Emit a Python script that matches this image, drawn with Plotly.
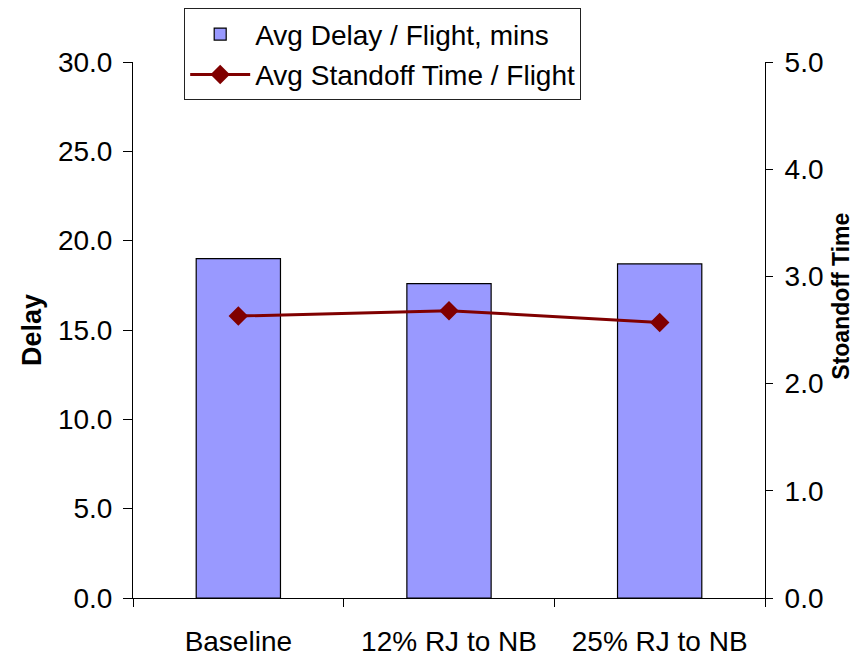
import plotly.graph_objects as go

categories = ["Baseline", "12% RJ to NB", "25% RJ to NB"]
avg_delay = [19.0, 17.6, 18.7]
avg_standoff = [2.63, 2.68, 2.57]
left_ticks = [0, 5, 10, 15, 20, 25, 30]
right_ticks = [0, 1, 2, 3, 4, 5]

FONT = "Liberation Sans, Arial, sans-serif"

fig = go.Figure()
fig.add_trace(go.Bar(
    x=categories, y=avg_delay, name="Avg Delay / Flight, mins",
    marker=dict(color="#9999FF", line=dict(color="black", width=1.2)),
    legendgroup="a", yaxis="y",
))
fig.add_trace(go.Scatter(
    x=categories, y=avg_standoff, name="Avg Standoff Time / Flight",
    mode="lines+markers",
    line=dict(color="#800000", width=3),
    marker=dict(symbol="diamond", size=15, color="#800000"),
    legendgroup="b", yaxis="y2",
))

fig.update_layout(
    width=857, height=648,
    margin=dict(l=125, r=100, t=54, b=58, autoexpand=False),
    paper_bgcolor="white", plot_bgcolor="white",
    font=dict(family=FONT, size=28, color="black"),
    bargap=0.6,
    showlegend=True,
    legend=dict(
        x=0.081, y=1.1, xanchor="left", yanchor="top",
        bgcolor="white", bordercolor="#222222", borderwidth=1,
        font=dict(family=FONT, size=28, color="black"),
        traceorder="grouped", tracegroupgap=1, itemwidth=60,
    ),
    xaxis=dict(
        showline=True, linecolor="black", linewidth=1,
        ticks="outside", tickson="boundaries", ticklen=8, tickcolor="black",
        tickfont=dict(size=28), ticklabelstandoff=18,
        showgrid=False, automargin=False,
    ),
    yaxis=dict(
        range=[0, 30], tickvals=left_ticks, tickformat=".1f",
        showline=True, linecolor="black", linewidth=1,
        ticks="outside", ticklen=9, tickcolor="black",
        tickfont=dict(size=28), ticklabelstandoff=5,
        showgrid=False, zeroline=False, automargin=False,
        title=dict(text="<b>Delay</b>", font=dict(size=27), standoff=8),
    ),
    yaxis2=dict(
        range=[0, 5], tickvals=right_ticks, tickformat=".1f",
        overlaying="y", side="right",
        showline=True, linecolor="black", linewidth=1,
        ticks="outside", ticklen=7, tickcolor="black",
        tickfont=dict(size=28), ticklabelstandoff=6,
        showgrid=False, zeroline=False, automargin=False,
    ),
    annotations=[dict(
        text="<b>Stoandoff Time</b>", textangle=-90,
        xref="paper", yref="paper", x=1.121, y=0.563,
        xanchor="center", yanchor="middle", showarrow=False,
        font=dict(family=FONT, size=23, color="black"),
    )],
)

fig.write_html("out.html")
